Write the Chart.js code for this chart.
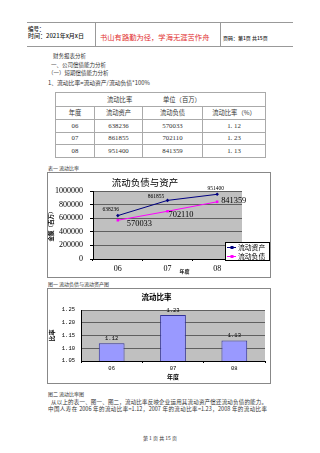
<!DOCTYPE html>
<html><head><meta charset="utf-8">
<script src="https://cdn.jsdelivr.net/npm/chart.js@4.4.1/dist/chart.umd.min.js"></script>
<style>
html,body{margin:0;padding:0;background:#fff;}
#page{position:relative;width:320px;height:453px;overflow:hidden;font-family:"Noto Sans CJK SC",sans-serif;color:#333;}
.t{position:absolute;white-space:nowrap;line-height:1;}
.hl{position:absolute;height:0;border-top:1px solid #999;}
.vl{position:absolute;width:0;border-left:1px solid #999;}
.box{position:absolute;border:1px solid #888;box-sizing:border-box;background:#fff;}
canvas{position:absolute;}
#tbl{position:absolute;left:55px;top:92px;width:211px;border-collapse:collapse;table-layout:fixed;font-size:6.3px;line-height:1;color:#333;}
#tbl td{border:1px solid #aaa;padding:0;text-align:center;vertical-align:middle;}
#tbl .num{font-family:"Liberation Serif",serif;font-size:6.8px;}
.j{text-align:justify;text-align-last:justify;}
</style></head>
<body>
<div id="page">
  <div class="hl" style="left:27px;top:22px;width:266px;"></div>
  <div class="hl" style="left:27px;top:46px;width:266px;"></div>
  <div class="vl" style="left:95px;top:22px;height:24px;"></div>
  <div class="vl" style="left:220px;top:22px;height:24px;"></div>
  <div class="t" style="left:28px;top:26.5px;font-size:5.5px;font-weight:500;color:#222;">编号：</div>
  <div class="t" style="left:28px;top:33px;font-size:6px;font-weight:500;color:#222;">时间：2021年x月x日</div>
  <div class="t" style="left:100px;top:33.5px;font-size:7.3px;color:#e23030;">书山有路勤为径，学海无涯苦作舟</div>
  <div class="t" style="left:223px;top:35px;font-size:5px;font-weight:500;color:#222;">页码：第1页 共15页</div>

  <div class="t" style="left:53px;top:54px;font-size:5.5px;">财务报表分析</div>
  <div class="t" style="left:51px;top:63px;font-size:5.5px;">一、公司偿债能力分析</div>
  <div class="t" style="left:48px;top:71px;font-size:5.5px;">（一）短期偿债能力分析</div>
  <div class="t" style="left:48px;top:80px;font-size:5.8px;">1、流动比率=流动资产/流动负债*100%</div>

  <table id="tbl">
    <colgroup><col style="width:39px"><col style="width:48px"><col style="width:60px"><col style="width:63px"></colgroup>
    <tbody id="tbody"></tbody>
  </table>

  <div class="t" style="left:48px;top:164.5px;font-size:5px;">表一 流动比率</div>

  <div class="box" style="left:47px;top:172px;width:224px;height:106px;"></div>
  <canvas id="c1" width="222" height="104" style="left:48px;top:173px;width:222px;height:104px;"></canvas>

  <div class="t" style="left:48px;top:280.5px;font-size:5px;">图一 流动负债与流动资产图</div>

  <div class="box" style="left:47px;top:288px;width:224px;height:96px;"></div>
  <canvas id="c2" width="222" height="94" style="left:48px;top:289px;width:222px;height:94px;"></canvas>

  <div class="t" style="left:48px;top:390.5px;font-size:5px;">图二 流动比率图</div>

  <div class="t j" style="left:51px;top:399.5px;width:216px;font-size:5.5px;">从以上的表一、图一、图二，流动比率反映企业运用其流动资产偿还流动负债的能力。</div>
  <div class="t j" style="left:48px;top:406.5px;width:219px;font-size:5.5px;">中国人寿在 2006 年的流动比率=1.12，2007 年的流动比率=1.23，2008 年的流动比率</div>

  <div class="t" style="left:143px;top:434.5px;font-size:5px;">第 1 页 共 15 页</div>
</div>
<script>
// ---- data ----
const years = ['06', '07', '08'];
const currentAssets = [638236, 861855, 951400];
const currentLiabilities = [570033, 702110, 841359];
const currentRatio = [1.12, 1.23, 1.13];
const amountTicks = [0, 200000, 400000, 600000, 800000, 1000000];
const ratioTicks = [1.05, 1.10, 1.15, 1.20, 1.25];
const seriesNames = ['流动资产', '流动负债'];

const CJK = '"Noto Sans CJK SC", sans-serif';
const SERIF = '"Liberation Serif", serif';
const MONO = '"Liberation Mono", monospace';

// ---- table built from data ----
(function(){
  const tb = document.getElementById('tbody');
  let h = '<tr style="height:14px"><td colspan="4" style="position:relative">' +
    '<span style="position:absolute;left:51px;top:4px">流动比率</span>' +
    '<span style="position:absolute;left:107px;top:4px">单位（百万）</span></td></tr>';
  h += '<tr style="height:13px"><td>年度</td><td>' + seriesNames[0] + '</td><td>' + seriesNames[1] + '</td><td>流动比率（%）</td></tr>';
  const hs = [13, 12, 13];
  years.forEach((y, i) => {
    h += '<tr style="height:' + hs[i] + 'px"><td class="num">' + y + '</td><td class="num">' + currentAssets[i] +
      '</td><td class="num">' + currentLiabilities[i] + '</td><td class="num">' + currentRatio[i].toFixed(2).replace('.', '. ') + '</td></tr>';
  });
  tb.innerHTML = h;
})();

Chart.defaults.font.family = CJK;
Chart.defaults.color = '#000';

const plotBg = {
  id: 'plotBg',
  beforeDraw(chart) {
    const a = chart.chartArea, ctx = chart.ctx;
    ctx.save(); ctx.fillStyle = '#C0C0C0';
    ctx.fillRect(a.left, a.top, a.right - a.left, a.bottom - a.top);
    ctx.restore();
  }
};

const pointLabels = {
  id: 'pointLabels',
  afterDatasetsDraw(chart, args, opts) {
    const ctx = chart.ctx;
    (opts.sets || []).forEach((cfg, i) => {
      const meta = chart.getDatasetMeta(i);
      const ds = chart.data.datasets[i];
      ctx.save();
      ctx.font = cfg.font; ctx.fillStyle = cfg.color; ctx.textBaseline = 'middle';
      meta.data.forEach((el, j) => {
        const o = cfg.offsets[j];
        ctx.textAlign = o[2];
        ctx.fillText(cfg.fmt(ds.data[j]), el.x + o[0], el.y + o[1]);
      });
      ctx.restore();
    });
  }
};

const boxLegend = {
  id: 'boxLegend',
  afterDraw(chart, args, opts) {
    if (!opts.show) return;
    const ctx = chart.ctx;
    ctx.save();
    ctx.fillStyle = '#fff'; ctx.strokeStyle = '#000'; ctx.lineWidth = 1;
    ctx.fillRect(opts.x, opts.y, opts.w, opts.h);
    ctx.strokeRect(opts.x + 0.5, opts.y + 0.5, opts.w - 1, opts.h - 1);
    ctx.font = opts.font; ctx.textBaseline = 'middle'; ctx.textAlign = 'left';
    chart.data.datasets.forEach((ds, i) => {
      const yy = opts.y + 5 + i * 9;
      ctx.strokeStyle = ds.borderColor; ctx.beginPath();
      ctx.moveTo(opts.x + 2, yy + 0.5); ctx.lineTo(opts.x + 11, yy + 0.5); ctx.stroke();
      ctx.fillStyle = ds.backgroundColor;
      ctx.fillRect(opts.x + 5.5, yy - 1, 3, 3);
      ctx.fillStyle = '#000';
      ctx.fillText(ds.label, opts.x + 13, yy + 0.5);
    });
    // x axis title placed like the original
    const xs = chart.scales.x;
    ctx.font = 'bold 5px ' + CJK; ctx.textAlign = 'center';
    ctx.fillText('年度', xs.getPixelForValue(1) + 17, chart.chartArea.bottom + 12);
    ctx.restore();
  }
};

new Chart(document.getElementById('c1'), {
  type: 'line',
  data: {
    labels: years,
    datasets: [
      { label: seriesNames[0], data: currentAssets, borderColor: '#000080', backgroundColor: '#000080',
        borderWidth: 1, pointStyle: 'rectRot', pointRadius: 1.8, pointBorderWidth: 0, tension: 0 },
      { label: seriesNames[1], data: currentLiabilities, borderColor: '#FF00FF', backgroundColor: '#FF00FF',
        borderWidth: 1, pointStyle: 'rect', pointRadius: 1.8, pointBorderWidth: 0, tension: 0 }
    ]
  },
  options: {
    responsive: false, animation: false, devicePixelRatio: 1,
    layout: { padding: { left: 0, right: 28, top: 0, bottom: 0 } },
    plugins: {
      legend: { display: false }, tooltip: { enabled: false },
      title: { display: true, text: '流动负债与资产', color: '#000',
        font: { size: 9.5, weight: 'normal', family: CJK }, padding: { top: 3.3, bottom: 3.3 } },
      pointLabels: { sets: [
        { font: '5.5px ' + SERIF, color: '#000', fmt: v => String(v),
          offsets: [[-7, -6, 'center'], [-11.5, -3.5, 'center'], [-1.5, -6, 'center']] },
        { font: '8.4px ' + SERIF, color: '#000', fmt: v => String(v),
          offsets: [[9, 4, 'left'], [1, 4, 'left'], [4, -0.5, 'left']] }
      ] },
      boxLegend: { show: true, x: 177, y: 69, w: 45, h: 19, font: '6.8px ' + CJK }
    },
    scales: {
      x: {
        offset: true,
        grid: { offset: true, drawOnChartArea: false, drawTicks: true, tickLength: 2, color: '#000' },
        border: { color: '#000' },
        ticks: { font: { size: 8, family: SERIF }, color: '#000', padding: 3, maxRotation: 0 },
        afterFit(s) { s.height = 18; }
      },
      y: {
        min: 0, max: 1000000,
        afterBuildTicks(s) { s.ticks = amountTicks.map(v => ({ value: v })); },
        ticks: { font: { size: 8, family: SERIF }, color: '#000', padding: 7, callback: v => String(v) },
        grid: { color: '#606060', drawTicks: true, tickLength: 3, tickColor: '#000' },
        border: { color: '#000' },
        title: { display: true, text: '金额（百万）', color: '#000', font: { size: 5.5, weight: 'bold', family: CJK }, padding: 0 },
        afterFit(s) { s.width = 45; }
      }
    }
  },
  plugins: [plotBg, pointLabels, boxLegend]
});

new Chart(document.getElementById('c2'), {
  type: 'bar',
  data: {
    labels: years,
    datasets: [{ label: '流动比率', data: currentRatio, backgroundColor: '#9999FF', borderColor: '#333399',
      borderWidth: 1, categoryPercentage: 1, barPercentage: 0.42 }]
  },
  options: {
    responsive: false, animation: false, devicePixelRatio: 1,
    layout: { padding: { left: 0, right: 5, top: 0, bottom: 0 } },
    plugins: {
      legend: { display: false }, tooltip: { enabled: false },
      title: { display: true, text: '流动比率', color: '#000',
        font: { size: 7.5, weight: 'bold', family: CJK }, padding: { top: 3.5, bottom: 8.5 } },
      pointLabels: { sets: [
        { font: '5.5px ' + MONO, color: '#000', fmt: v => v.toFixed(2),
          offsets: [[0, -5, 'center'], [0, -5, 'center'], [0, -5, 'center']] }
      ] }
    },
    scales: {
      x: {
        grid: { offset: true, drawOnChartArea: false, drawTicks: true, tickLength: 2, color: '#000' },
        border: { color: '#000' },
        ticks: { font: { size: 5.5, family: MONO }, color: '#000', padding: 2, maxRotation: 0 },
        title: { display: true, text: '年度', color: '#000', font: { size: 6, weight: 'bold', family: CJK }, padding: { top: 0, bottom: 2.4 } },
        afterFit(s) { s.height = 22; }
      },
      y: {
        min: 1.05, max: 1.25,
        afterBuildTicks(s) { s.ticks = ratioTicks.map(v => ({ value: v })); },
        ticks: { font: { size: 5.5, family: MONO }, color: '#000', padding: 6, callback: v => Number(v).toFixed(2) },
        grid: { color: '#606060', drawTicks: false },
        border: { color: '#000' },
        title: { display: true, text: '比率', color: '#000', font: { size: 6, weight: 'bold', family: CJK }, padding: 0 },
        afterFit(s) { s.width = 33; }
      }
    }
  },
  plugins: [plotBg, pointLabels]
});
</script>
</body></html>
